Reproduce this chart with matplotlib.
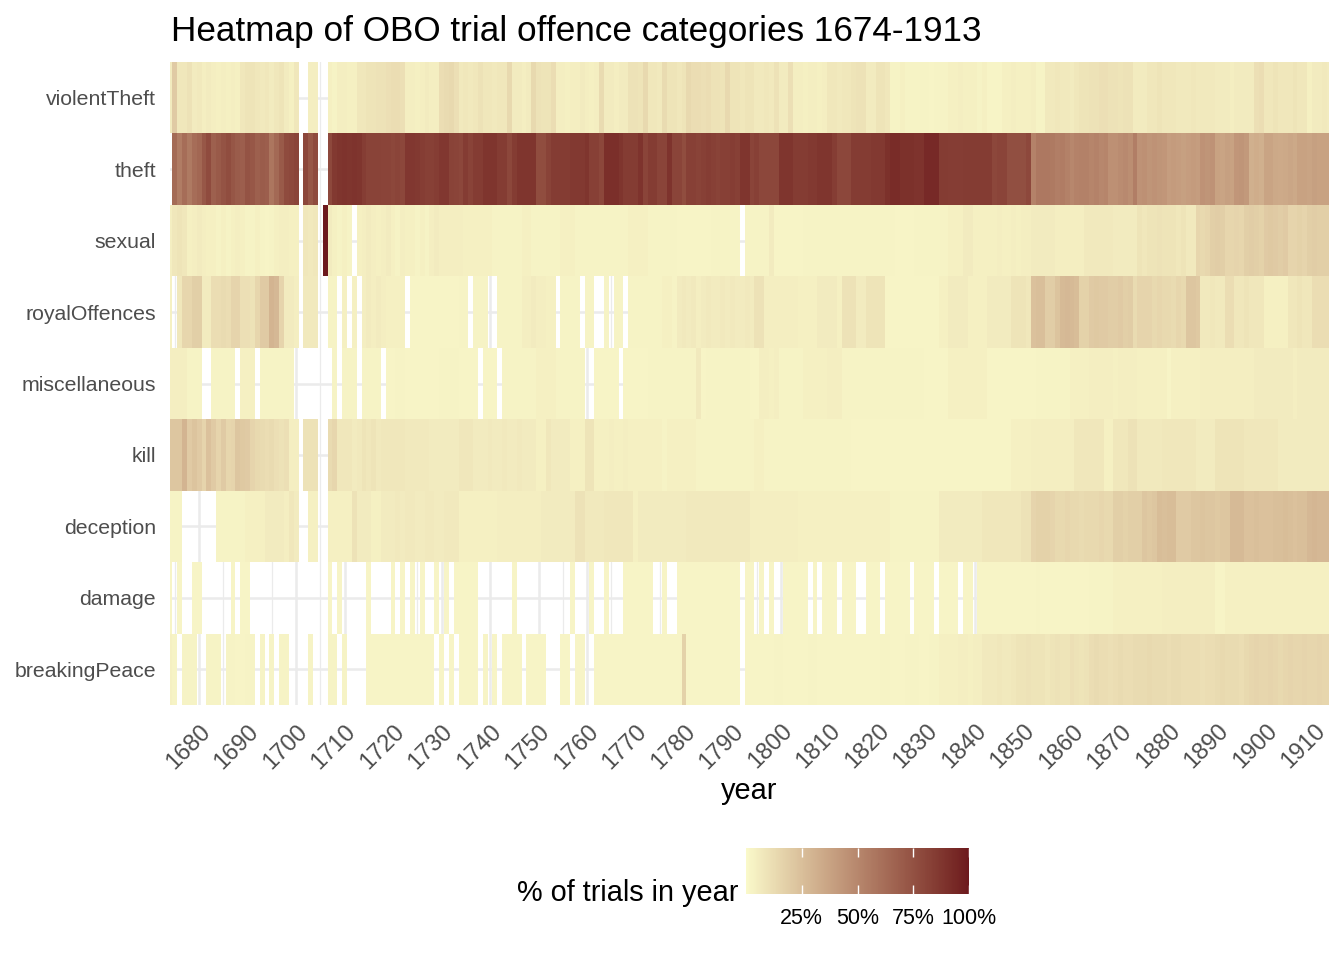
import numpy as np
import matplotlib
matplotlib.use('Agg')
import matplotlib.pyplot as plt
from matplotlib.colors import ListedColormap, Normalize, to_rgb
from matplotlib.transforms import ScaledTranslation

nan = np.nan

years = np.arange(1674, 1914)

# top to bottom as drawn
categories = ['violentTheft', 'theft', 'sexual', 'royalOffences', 'miscellaneous',
              'kill', 'deception', 'damage', 'breakingPeace']

# % of trials in year, 1674..1913 (nan = no trials of that kind)
violent_theft = [
    6, 20, 8, 8, 10, 6, 7, 5, 6, 5,
    4, 5, 4, 5, 4, 8, 9, 9, 8, 7,
    8, 6, 8, 9, 6, 4, 8, nan, nan, 5,
    5, nan, nan, 4, 3, 5, 5, 4, 4, 8,
    8, 9, 9, 10, 10, 11, 12, 12, 11, 5,
    5, 4, 5, 6, 5, 5, 12, 13, 14, 11,
    7, 8, 7, 8, 10, 8, 8, 7, 8, 8,
    14, 6, 6, 5, 6, 14, 10, 9, 9, 12,
    5, 5, 4, 5, 5, 6, 5, 4, 5, 13,
    6, 6, 5, 6, 6, 10, 10, 9, 14, 8,
    8, 7, 13, 9, 9, 8, 9, 14, 12, 12,
    11, 12, 10, 10, 9, 14, 9, 9, 8, 9,
    9, 7, 7, 8, 7, 10, 6, 6, 11, 5,
    5, 4, 5, 5, 4, 5, 8, 8, 7, 8,
    8, 9, 10, 10, 6, 6, 9, 9, 8, 3,
    3, 4, 3, 3, 3, 3, 3, 2, 3, 3,
    3, 4, 4, 5, 4, 4, 4, 3, 4, 2,
    2, 2, 4, 4, 5, 4, 4, 4, 5, 3,
    3, 7, 7, 8, 7, 7, 6, 8, 9, 9,
    10, 10, 11, 11, 10, 10, 9, 10, 10, 6,
    6, 6, 8, 8, 9, 8, 8, 8, 7, 7,
    7, 8, 7, 7, 7, 7, 6, 6, 6, 5,
    6, 6, 6, 6, 11, 12, 8, 8, 9, 8,
    8, 8, 9, 8, 8, 4, 6, 6, 7, 6]

theft = [
    nan, 63, 55, 62, 56, 62, 65, 72, 78, 68,
    71, 74, 77, 73, 70, 69, 74, 72, 68, 70,
    69, 58, 64, 71, 78, 79, 81, nan, 80, 72,
    78, nan, nan, 79, 86, 88, 89, 88, 89, 88,
    84, 82, 82, 82, 81, 81, 80, 81, 80, 87,
    87, 86, 84, 83, 83, 84, 87, 87, 82, 81,
    80, 85, 82, 85, 85, 88, 88, 88, 85, 85,
    80, 85, 88, 88, 88, 88, 77, 77, 82, 85,
    85, 85, 85, 86, 86, 86, 88, 83, 83, 80,
    91, 91, 91, 88, 85, 85, 85, 89, 81, 85,
    85, 81, 81, 89, 81, 81, 77, 83, 83, 82,
    83, 84, 83, 82, 83, 83, 84, 83, 88, 88,
    81, 83, 80, 80, 80, 80, 88, 88, 88, 85,
    85, 85, 86, 86, 88, 88, 88, 84, 80, 80,
    80, 85, 85, 85, 85, 86, 86, 86, 90, 92,
    92, 90, 90, 90, 89, 89, 93, 93, 93, 85,
    85, 84, 84, 84, 85, 85, 85, 85, 85, 85,
    80, 81, 81, 76, 76, 76, 76, 79, 52, 57,
    57, 57, 56, 54, 55, 53, 50, 52, 53, 53,
    51, 52, 50, 51, 46, 46, 48, 49, 47, 54,
    45, 46, 44, 45, 44, 43, 40, 41, 40, 39,
    40, 41, 40, 45, 44, 45, 38, 37, 39, 38,
    43, 44, 42, 32, 33, 32, 37, 37, 35, 34,
    35, 36, 35, 38, 38, 37, 39, 38, 38, 38]

sexual = [
    5, 8, 9, 8, 4, 5, 6, 5, 4, 4,
    3, 4, 3, 4, 5, 4, 3, 3, 4, 3,
    2, 3, 4, 5, 5, 4, 4, nan, 8, 7,
    8, nan, 100, 6, 4, 3, 4, 3, nan, 4,
    5, 6, 5, 4, 5, 6, 4, 3, 5, 4,
    4, 3, 4, 3, 5, 6, 5, 5, 5, 5,
    5, 4, 4, 4, 4, 4, 4, 3, 3, 3,
    3, 3, 3, 4, 4, 3, 3, 3, 3, 3,
    3, 4, 4, 4, 3, 3, 3, 3, 3, 3,
    3, 3, 3, 3, 3, 4, 4, 4, 4, 3,
    3, 3, 3, 3, 3, 2, 2, 2, 2, 2,
    2, 2, 3, 3, 3, 3, 3, 3, nan, 3,
    3, 3, 3, 3, 6, 2, 2, 2, 2, 2,
    2, 3, 3, 3, 3, 3, 3, 3, 3, 3,
    3, 3, 3, 3, 3, 3, 3, 3, 3, 3,
    2, 2, 2, 2, 3, 3, 3, 3, 3, 3,
    3, 4, 4, 4, 6, 6, 4, 4, 4, 4,
    4, 5, 4, 4, 5, 4, 5, 5, 6, 6,
    6, 6, 6, 5, 5, 5, 5, 5, 5, 7,
    7, 7, 7, 7, 7, 6, 6, 6, 6, 6,
    9, 8, 9, 9, 10, 9, 9, 9, 8, 9,
    7, 7, 15, 14, 15, 18, 19, 18, 15, 15,
    16, 15, 18, 19, 18, 17, 20, 21, 20, 19,
    20, 16, 16, 17, 16, 18, 19, 18, 18, 18]

royal_offences = [
    4, nan, 8, 15, 15, 18, 18, 6, 6, 12,
    12, 13, 12, 16, 16, 11, 11, 10, 15, 20,
    20, 30, 28, 16, 6, 6, 5, nan, 7, 7,
    7, nan, nan, 3, 3, nan, 4, nan, 4, nan,
    5, 6, 5, 6, 5, 4, 4, 4, 4, nan,
    2, 2, 2, 2, 2, 2, 2, 2, 2, 2,
    3, 3, nan, 3, 3, 3, nan, nan, 3, 3,
    3, 3, 3, 5, 5, 6, 5, 5, 4, 4,
    nan, 3, 3, 3, 3, nan, 3, 3, nan, nan,
    3, nan, 3, 3, nan, 3, 3, 3, 3, 3,
    3, 3, 4, 4, 3, 6, 7, 6, 7, 5,
    6, 7, 6, 6, 7, 6, 7, 6, 6, 7,
    6, 10, 10, 5, 5, 5, 5, 5, 5, 5,
    4, 4, 4, 4, 6, 6, 6, 6, 4, 10,
    10, 10, 6, 6, 9, 9, 9, 9, 2, 2,
    2, 2, 2, 2, 2, 2, 2, 2, 2, 4,
    4, 6, 6, 6, 6, 4, 4, 4, 4, 6,
    6, 6, 6, 6, 9, 9, 9, 8, 24, 25,
    25, 19, 19, 23, 27, 28, 27, 26, 17, 17,
    20, 21, 20, 20, 19, 19, 20, 18, 19, 13,
    16, 16, 16, 14, 15, 14, 14, 13, 15, 14,
    22, 22, 21, 7, 7, 8, 7, 7, 12, 12,
    8, 8, 9, 8, 8, 8, 4, 4, 4, 4,
    4, 8, 8, 9, 8, 8, 12, 12, 12, 12]

miscellaneous = [
    5, 5, 5, 5, 3, 3, 3, nan, nan, 3,
    3, 3, 3, 3, nan, 4, 4, 4, nan, 3,
    3, 3, 3, 3, 3, 3, nan, nan, nan, nan,
    nan, nan, nan, nan, 3, nan, 3, 3, 3, nan,
    3, 3, 3, 3, nan, 2, 2, 3, 3, 2,
    2, 2, 2, 2, 2, 2, 3, 3, 3, 3,
    2, 2, 2, 2, nan, 2, 2, 2, nan, 3,
    3, 3, 3, 3, 3, 3, 4, 4, 4, 4,
    3, 3, 3, 3, 3, 3, nan, nan, 2, 2,
    2, 2, 2, nan, 2, 2, 2, 2, 2, 3,
    3, 3, 3, 3, 3, 3, 3, 3, 3, 7,
    2, 3, 3, 3, 3, 3, 3, 3, 3, 3,
    2, 2, 5, 5, 4, 5, 3, 3, 3, 3,
    3, 4, 4, 4, 4, 4, 5, 5, 5, 3,
    3, 3, 3, 3, 3, 3, 3, 3, 3, 3,
    3, 3, 3, 3, 3, 3, 2, 2, 2, 2,
    2, 4, 4, 4, 4, 4, 4, 4, 4, 2,
    2, 2, 2, 2, 2, 2, 2, 2, 2, 3,
    3, 3, 3, 3, 3, 3, 4, 4, 4, 4,
    5, 5, 5, 5, 5, 4, 5, 5, 5, 5,
    4, 4, 4, 4, 4, 4, 2, 4, 4, 4,
    4, 4, 4, 5, 5, 5, 5, 5, 5, 5,
    5, 5, 5, 5, 6, 6, 6, 6, 6, 6,
    6, 6, 5, 6, 6, 6, 6, 6, 6, 6]

kill = [
    22, 22, 22, 30, 20, 23, 20, 16, 24, 20,
    16, 20, 15, 16, 22, 21, 20, 16, 14, 13,
    12, 13, 11, 10, 11, 5, 5, nan, 10, 10,
    10, nan, nan, 13, 15, 8, 8, 8, 6, 7,
    9, 8, 9, 7, 8, 8, 8, 8, 8, 7,
    7, 7, 7, 7, 6, 6, 6, 6, 6, 6,
    8, 8, 8, 6, 6, 6, 7, 6, 6, 7,
    6, 6, 7, 6, 6, 6, 4, 4, 8, 6,
    6, 6, 6, 4, 4, 4, 9, 9, 4, 4,
    4, 5, 4, 4, 5, 4, 4, 4, 4, 4,
    4, 4, 3, 4, 4, 4, 4, 4, 4, 3,
    3, 3, 3, 3, 3, 3, 3, 3, 3, 3,
    3, 4, 4, 3, 3, 3, 3, 3, 3, 3,
    3, 3, 3, 3, 3, 3, 3, 3, 3, 3,
    3, 2, 2, 2, 2, 2, 2, 2, 2, 2,
    2, 2, 2, 2, 2, 2, 2, 2, 2, 2,
    2, 2, 2, 2, 2, 2, 2, 2, 2, 2,
    2, 2, 2, 2, 4, 4, 4, 4, 5, 5,
    5, 5, 5, 5, 5, 5, 5, 8, 8, 8,
    8, 8, 8, 4, 4, 8, 8, 8, 10, 10,
    7, 7, 7, 7, 7, 8, 8, 8, 8, 8,
    8, 8, 6, 6, 6, 6, 9, 9, 9, 9,
    9, 9, 8, 8, 8, 8, 8, 8, 8, 6,
    6, 6, 6, 6, 6, 6, 6, 6, 6, 6]

deception = [
    3, 3, 3, nan, nan, nan, nan, nan, nan, nan,
    3, 3, 3, 3, 3, 3, 4, 4, 4, 4,
    6, 6, 6, 6, 5, 8, 6, nan, nan, 4,
    4, nan, nan, 4, 4, 4, 4, 4, 10, 6,
    6, 6, 4, 4, 6, 6, 6, 7, 6, 7,
    7, 6, 6, 7, 7, 6, 6, 7, 7, 7,
    4, 4, 4, 4, 4, 4, 4, 4, 5, 5,
    5, 5, 5, 5, 5, 5, 5, 6, 6, 6,
    6, 6, 6, 6, 10, 10, 7, 7, 7, 7,
    8, 8, 8, 8, 8, 8, 4, 6, 6, 6,
    6, 6, 6, 6, 6, 6, 6, 7, 7, 7,
    7, 7, 7, 7, 7, 7, 7, 7, 7, 7,
    5, 5, 5, 5, 5, 5, 5, 5, 5, 5,
    4, 4, 4, 4, 4, 4, 4, 4, 4, 4,
    4, 4, 4, 4, 4, 4, 4, 4, 4, 3,
    3, 3, 3, 3, 3, 3, 3, 3, 3, 6,
    6, 6, 6, 6, 6, 6, 6, 6, 8, 8,
    8, 8, 8, 8, 8, 8, 10, 10, 16, 17,
    17, 17, 16, 14, 14, 15, 14, 14, 13, 14,
    14, 14, 15, 14, 14, 18, 18, 17, 18, 18,
    18, 22, 21, 22, 26, 25, 26, 26, 20, 20,
    20, 22, 22, 23, 22, 22, 21, 22, 22, 27,
    27, 27, 24, 24, 25, 24, 24, 24, 25, 25,
    26, 25, 24, 25, 25, 28, 29, 28, 28, 28]

damage = [
    2, nan, 2, nan, nan, 2, 2, nan, nan, nan,
    nan, nan, nan, 2, nan, 2, 2, nan, nan, nan,
    nan, nan, nan, nan, nan, nan, nan, nan, nan, nan,
    nan, nan, nan, 2, nan, 2, nan, nan, nan, nan,
    nan, 2, nan, nan, nan, nan, 2, nan, 2, nan,
    2, nan, 2, nan, nan, 2, nan, 2, nan, 2,
    2, 2, 2, 2, nan, nan, nan, nan, nan, nan,
    nan, 2, nan, nan, nan, nan, nan, nan, nan, nan,
    nan, nan, nan, 2, nan, nan, nan, 2, nan, nan,
    2, nan, nan, nan, 2, 2, 2, 2, 2, 2,
    nan, nan, 2, nan, nan, 2, 2, 2, 2, 2,
    2, 2, 2, 2, 2, 2, 2, 2, nan, 2,
    2, nan, 2, nan, 2, nan, nan, 2, 2, 2,
    2, 2, nan, 2, nan, 2, 2, 2, nan, 2,
    2, 2, nan, nan, 2, 2, 2, nan, 2, 2,
    2, 2, 2, nan, 2, 2, 2, 2, nan, 2,
    2, 2, 2, nan, 2, 2, nan, 2, 2, 2,
    2, 2, 2, 2, 2, 2, 2, 2, 2, 3,
    2, 2, 2, 2, 2, 2, 2, 2, 2, 2,
    3, 3, 3, 3, 3, 4, 4, 4, 4, 4,
    4, 4, 4, 4, 4, 5, 5, 5, 5, 5,
    5, 5, 5, 5, 5, 5, 2, 2, 4, 4,
    4, 4, 4, 4, 4, 4, 4, 4, 4, 4,
    4, 4, 4, 4, 4, 4, 4, 4, 4, 4]

breaking_peace = [
    4, 3, nan, 3, 3, 3, nan, nan, 3, 3,
    3, nan, 3, 3, 2, 2, 3, 3, nan, 3,
    nan, 3, nan, 3, 3, nan, nan, nan, nan, 3,
    nan, nan, nan, 3, 3, nan, 3, nan, nan, nan,
    nan, 2, 2, 2, 2, 2, 2, 2, 2, 2,
    2, 2, 2, 2, 2, nan, 2, nan, 2, nan,
    2, 2, 2, 2, nan, 2, nan, 2, nan, 2,
    2, 2, 2, nan, 2, 2, 2, 2, nan, nan,
    nan, 2, 2, nan, 2, 2, nan, nan, 2, 2,
    2, 2, 2, 2, 2, 2, 2, 2, 2, 2,
    2, 2, 2, 2, 2, 2, 17, 2, 2, 2,
    2, 2, 2, 2, 2, 2, 2, 2, nan, 2,
    2, 2, 2, 2, 2, 3, 3, 2, 2, 2,
    2, 2, 3, 3, 2, 2, 2, 2, 2, 2,
    2, 2, 2, 2, 2, 2, 2, 3, 3, 2,
    2, 2, 3, 3, 3, 2, 2, 3, 3, 4,
    4, 4, 4, 5, 5, 4, 5, 5, 7, 7,
    7, 8, 7, 7, 8, 9, 9, 10, 9, 9,
    9, 8, 9, 10, 9, 9, 11, 10, 9, 10,
    12, 13, 12, 12, 11, 12, 13, 12, 12, 13,
    13, 13, 14, 13, 13, 13, 12, 13, 13, 12,
    12, 12, 12, 11, 12, 12, 13, 14, 13, 13,
    13, 12, 14, 15, 16, 15, 15, 16, 15, 14,
    15, 16, 15, 15, 16, 15, 15, 16, 15, 15]

rows = [violent_theft, theft, sexual, royal_offences, miscellaneous,
        kill, deception, damage, breaking_peace]
for r in rows:
    assert len(r) == len(years)

grid = np.ma.masked_invalid(np.array(rows, dtype=float))

# ggplot style gradient, interpolated in CIELAB
M = np.array([[0.4124564, 0.3575761, 0.1804375],
              [0.2126729, 0.7151522, 0.0721750],
              [0.0193339, 0.1191920, 0.9503041]])
WHITE = np.array([0.95047, 1.0, 1.08883])


def to_lab(col):
    rgb = np.array(to_rgb(col))
    lin = np.where(rgb <= 0.04045, rgb / 12.92, ((rgb + 0.055) / 1.055) ** 2.4)
    t = M @ lin / WHITE
    f = np.where(t > (6 / 29) ** 3, np.cbrt(t), t / (3 * (6 / 29) ** 2) + 4 / 29)
    return np.array([116 * f[1] - 16, 500 * (f[0] - f[1]), 200 * (f[1] - f[2])])


def from_lab(lab):
    fy = (lab[:, 0] + 16) / 116
    f = np.stack([fy + lab[:, 1] / 500, fy, fy - lab[:, 2] / 200], axis=1)
    xyz = np.where(f > 6 / 29, f ** 3, 3 * (6 / 29) ** 2 * (f - 4 / 29)) * WHITE
    lin = np.clip(xyz @ np.linalg.inv(M).T, 0, 1)
    rgb = np.where(lin <= 0.0031308, 12.92 * lin, 1.055 * lin ** (1 / 2.4) - 0.055)
    return np.clip(rgb, 0, 1)


lo, hi = to_lab('#FAF9CA'), to_lab('#6D191D')
s = np.linspace(0, 1, 256)[:, None]
cmap = ListedColormap(from_lab(lo + (hi - lo) * s))
norm = Normalize(0, 100)

FONT = 'Liberation Sans'
plt.rcParams['font.family'] = [FONT, 'DejaVu Sans']

W, H = 1344, 960
fig = plt.figure(figsize=(W / 100, H / 100), dpi=100)
ax = fig.add_axes([170 / W, 1 - 705 / H, 1159 / W, 643 / H])

x_edges = np.append(years - 0.5, years[-1] + 0.5)
y_edges = np.arange(len(categories) + 1) - 0.5
mesh = ax.pcolormesh(x_edges, y_edges, grid, cmap=cmap, norm=norm,
                     shading='flat', edgecolors='none', antialiased=False)

ax.set_xlim(1674, 1913)
ax.set_ylim(len(categories) - 0.5, -0.5)

ax.set_xticks(np.arange(1680, 1911, 10))
ax.set_xticks(np.arange(1675, 1913, 10), minor=True)
ax.set_yticks(np.arange(len(categories)))
ax.set_yticklabels(categories)
ax.set_axisbelow(True)
ax.grid(which='major', color='#EBEBEB', linewidth=1.8)
ax.grid(which='minor', axis='x', color='#EBEBEB', linewidth=0.9)
for sp in ax.spines.values():
    sp.set_visible(False)

ax.tick_params(axis='both', which='both', length=0)
ax.tick_params(axis='y', labelsize=15.3, labelcolor='#4D4D4D', pad=10)
ax.tick_params(axis='x', labelsize=17, labelcolor='#4D4D4D', pad=11)
shift = ScaledTranslation(0, 0, fig.dpi_scale_trans)
for lbl in ax.get_xticklabels():
    lbl.set_rotation(45)
    lbl.set_ha('right')
    lbl.set_va('top')
    lbl.set_rotation_mode('anchor')
    lbl.set_transform(lbl.get_transform() + shift)

fig.text(171 / W, 1 - 41 / H, 'Heatmap of OBO trial offence categories 1674-1913',
         fontsize=25.25, ha='left', va='baseline', color='black')
fig.text(749.5 / W, 1 - 799 / H, 'year', fontsize=20.8, ha='center', va='baseline')

# legend (colorbar at the bottom)
cax = fig.add_axes([746 / W, 1 - 894 / H, 223 / W, 46 / H])
cb = fig.colorbar(mesh, cax=cax, orientation='horizontal', ticks=[25, 50, 75, 100])
cb.outline.set_visible(False)
cb.ax.set_xticklabels(['25%', '50%', '75%', '100%'])
cax.tick_params(axis='x', direction='in', length=6.6, width=1, color='white',
                top=True, bottom=True, labeltop=False, labelsize=15.5,
                labelcolor='black', pad=10)
fig.text(738 / W, 1 - 901 / H, '% of trials in year', fontsize=20.8,
         ha='right', va='baseline')

fig.savefig('out.png', dpi=100, facecolor='white')
